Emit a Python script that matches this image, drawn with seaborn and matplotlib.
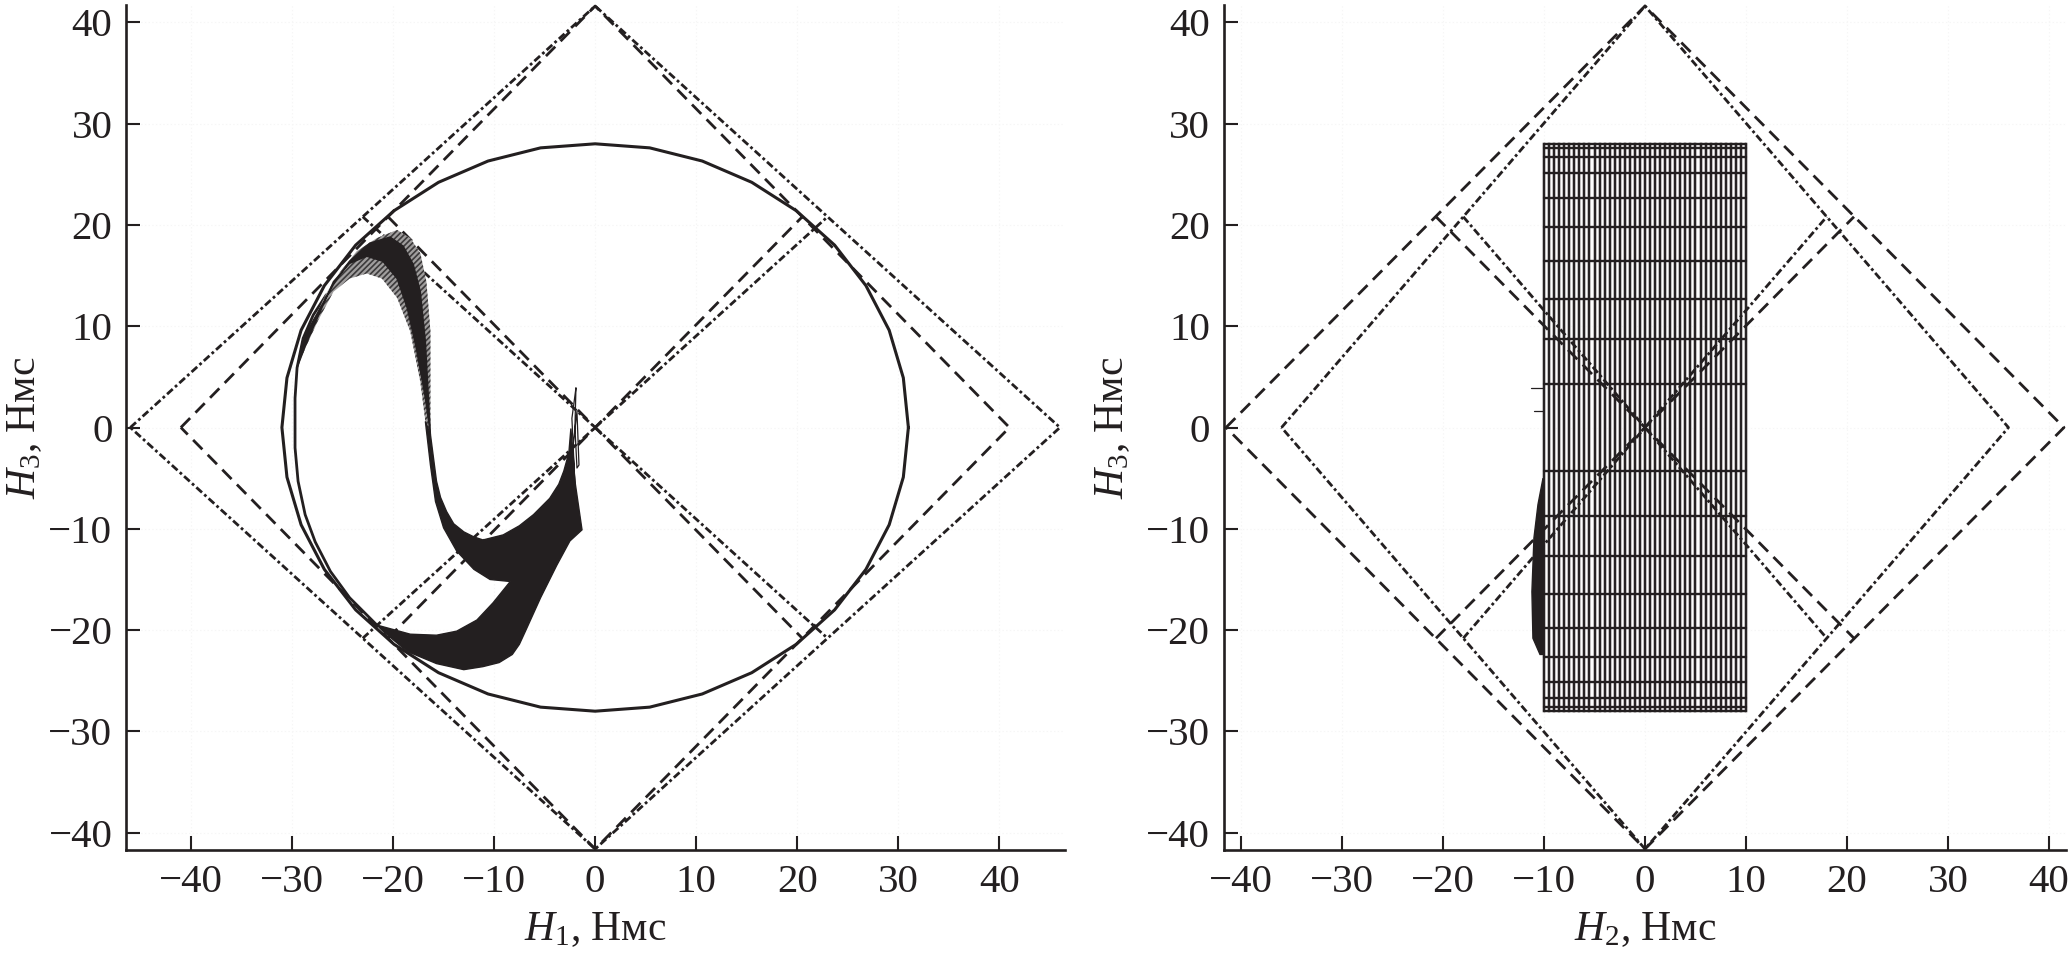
import matplotlib
matplotlib.use("Agg")
import matplotlib.pyplot as plt
import seaborn as sns
import pandas as pd

sns.set_theme(style="ticks")
plt.rcParams["font.family"] = ["Liberation Serif", "DejaVu Serif"]
plt.rcParams["mathtext.fontset"] = "custom"
plt.rcParams["mathtext.rm"] = "Liberation Serif"
plt.rcParams["mathtext.it"] = "Liberation Serif:italic"
plt.rcParams["axes.unicode_minus"] = True
plt.rcParams["lines.scale_dashes"] = False
plt.rcParams["hatch.linewidth"] = 1.2

INK = "#231f20"
DASH = (0, (9.5, 5.5))
DASHDOT = (0, (5.5, 2.2, 2, 2.2))

xticks1 = [-40, -30, -20, -10, 0, 10, 20, 30, 40]
yticks = [-40, -30, -20, -10, 0, 10, 20, 30, 40]

# polytope outlines, left panel (H1-H3)
left_dashdot_x = [-46, 0, 46, 0, -46]
left_dashdot_y = [0, 41.6, 0, -41.6, 0]
left_dashdot_c1x = [-23, 23]
left_dashdot_c1y = [20.8, -20.8]
left_dashdot_c2x = [-23, 23]
left_dashdot_c2y = [-20.8, 20.8]
left_dash_x = [-41, 0, 41, 0, -41]
left_dash_y = [0, 41.6, 0, -41.6, 0]
left_dash_c1x = [-20.5, 20.5]
left_dash_c1y = [20.8, -20.8]
left_dash_c2x = [-20.5, 20.5]
left_dash_c2y = [-20.8, 20.8]

# polytope outlines, right panel (H2-H3)
right_dashdot_x = [-36, 0, 36, 0, -36]
right_dashdot_y = [0, 41.6, 0, -41.6, 0]
right_dashdot_c1x = [-18, 18]
right_dashdot_c1y = [20.8, -20.8]
right_dashdot_c2x = [-18, 18]
right_dashdot_c2y = [-20.8, 20.8]
right_dash_x = [-41.5, 0, 41.5, 0, -41.5]
right_dash_y = [0, 41.6, 0, -41.6, 0]
right_dash_c1x = [-20.7, 20.7]
right_dash_c1y = [20.8, -20.8]
right_dash_c2x = [-20.7, 20.7]
right_dash_c2y = [-20.8, 20.8]

# momentum envelope
ellipse_x = [31, 30.5, 29.1, 26.8, 23.7, 19.9, 15.5, 10.6, 5.4, 0,
             -5.4, -10.6, -15.5, -19.9, -23.7, -26.8, -29.1, -30.5, -31,
             -30.5, -29.1, -26.8, -23.7, -19.9, -15.5, -10.6, -5.4, 0,
             5.4, 10.6, 15.5, 19.9, 23.7, 26.8, 29.1, 30.5, 31]
ellipse_y = [0, 4.9, 9.6, 14, 18, 21.4, 24.2, 26.3, 27.6, 28,
             27.6, 26.3, 24.2, 21.4, 18, 14, 9.6, 4.9, 0,
             -4.9, -9.6, -14, -18, -21.4, -24.2, -26.3, -27.6, -28,
             -27.6, -26.3, -24.2, -21.4, -18, -14, -9.6, -4.9, 0]
arc_x = [-26.6, -27.9, -28.9, -29.5, -29.7, -29.7, -29.4, -28.7, -27.7, -26.2, -24.3, -21.6]
arc_y = [13.1, 11.1, 8.8, 5.9, 2.9, -2, -5.3, -8.6, -11.3, -14.2, -16.8, -19.5]

# trajectory ribbon, left panel
hatch_x = [-29.5, -28.9, -27.6, -26.7, -25.2, -23.6, -21.6, -19.6, -18.3, -17.3, -16.7, -16.3, -16.3, -16.3,
           -16.8, -17.3, -18.3, -19.6, -21.1, -22.6, -24.3, -25.9, -27.4, -28.7]
hatch_y = [5.9, 8.8, 11.1, 13.1, 15.4, 17.4, 18.7, 19.5, 18.7, 17.2, 14.4, 9.5, 4.5, -0.7,
           0.6, 4.5, 9.5, 12.8, 14.7, 15.2, 14.7, 13.4, 10.6, 7.8]
core_x = [-29.5, -28.9, -27.6, -25.9, -24.3, -22.3, -20.3, -19.0, -18.0, -17.3, -16.8, -16.5, -16.3,
          -16.8, -17.7, -18.6, -19.6, -21.0, -22.6, -24.3, -25.9, -27.4, -28.7]
core_y = [5.9, 8.8, 11.1, 14.1, 16.4, 18.2, 18.8, 17.9, 16.1, 13.4, 8.5, 2.9, -0.7,
          2.9, 7.8, 11.8, 14.7, 16.4, 16.9, 16.2, 14.4, 11.0, 8.0]
ribbon_x = [-16.8, -16.3, -15.7, -15.3, -14.7, -14.0, -13.0, -12.0, -11.1, -9.1, -7.5, -6.1, -4.5, -3.6, -3.1, -2.6, -2.4,
            -2.0, -1.3, -2.5, -3.8, -5.4, -6.9, -7.5, -8.2, -9.5, -11.1, -13.0, -15.7, -18.6, -21.0, -21.6,
            -18.3, -15.7, -13.7, -11.7, -10.1, -8.4, -10.4, -12.0, -13.7, -15.0, -15.8, -16.3]
ribbon_y = [0.6, -0.7, -5.3, -6.9, -8.3, -9.5, -10.3, -10.8, -11.1, -10.6, -9.7, -8.6, -7.0, -5.6, -4.3, -2.5, -0.1,
            -5.3, -10.1, -11.2, -13.6, -16.8, -20.1, -21.4, -22.4, -23.2, -23.6, -23.9, -23.3, -22.1, -20.1, -19.5,
            -20.4, -20.5, -20.1, -19.0, -17.3, -15.2, -15.0, -14.0, -12.2, -9.9, -7.3, -3.7]
spike_x = [-1.9, -2.3, -2.0, -2.2, -1.8, -1.6, -1.8, -2.0, -1.9]
spike_y = [3.9, 0.9, -5.7, -2.0, 1.6, -3.7, -4.0, 0.0, 3.9]

# wire grid, right panel
grid_h2 = [-10, -9.5, -9, -8.5, -8, -7.5, -7, -6.5, -6, -5.5, -5, -4.5, -4, -3.5, -3, -2.5, -2, -1.5, -1, -0.5, 0,
           0.5, 1, 1.5, 2, 2.5, 3, 3.5, 4, 4.5, 5, 5.5, 6, 6.5, 7, 7.5, 8, 8.5, 9, 9.5, 10]
grid_h3 = [28, 27.6, 26.7, 25.1, 22.7, 19.8, 16.4, 12.7, 8.7, 4.3,
           -4.3, -8.7, -12.7, -16.4, -19.8, -22.7, -25.1, -26.7, -27.6, -28]
sliver_x = [-10.1, -10.6, -11.0, -11.2, -11.1, -10.4, -10.1]
sliver_y = [-5, -7.6, -10.9, -16.2, -20.8, -22.4, -22.4]
stub_h2 = [-11.3, -10.1, -11.0, -10.1]
stub_h3 = [3.9, 3.9, 1.6, 1.6]


def draw(ax, x, y, ls="-", lw=2.0, color=INK):
    sns.lineplot(x=x, y=y, ax=ax, sort=False, estimator=None, color=color,
                 linestyle=ls, linewidth=lw, clip_on=False, zorder=6)


def style(ax, xlim, xlabel, ypad):
    ax.set_xlim(*xlim)
    ax.set_ylim(-41.7, 41.7)
    ax.set_xticks(xticks1)
    ax.set_yticks(yticks)
    ax.grid(True, color="#f6f6f6", linestyle=":", linewidth=0.8)
    ax.set_axisbelow(True)
    ax.tick_params(direction="in", length=10, width=1.5, labelsize=29.5, colors=INK)
    ax.tick_params(axis="x", pad=10)
    ax.tick_params(axis="y", pad=10)
    ax.set_xlabel(xlabel, fontsize=30, color=INK, labelpad=7)
    ax.set_ylabel("$H_3$, Нмс", fontsize=30, color=INK, labelpad=ypad)
    sns.despine(ax=ax)
    for side in ["left", "bottom"]:
        ax.spines[side].set_linewidth(1.9)
        ax.spines[side].set_color(INK)


fig = plt.figure(figsize=(20.7, 9.65), dpi=100)
ax1 = fig.add_axes([126.3 / 2070, 1 - 850 / 965, (1065 - 126.3) / 2070, (850 - 5) / 965])
ax2 = fig.add_axes([1224 / 2070, 1 - 850 / 965, (2066 - 1224) / 2070, (850 - 5) / 965])

# left panel
draw(ax1, left_dashdot_x, left_dashdot_y, DASHDOT)
draw(ax1, left_dashdot_c1x, left_dashdot_c1y, DASHDOT)
draw(ax1, left_dashdot_c2x, left_dashdot_c2y, DASHDOT)
draw(ax1, left_dash_x, left_dash_y, DASH)
draw(ax1, left_dash_c1x, left_dash_c1y, DASH)
draw(ax1, left_dash_c2x, left_dash_c2y, DASH)
draw(ax1, ellipse_x, ellipse_y, lw=2.2)
draw(ax1, arc_x, arc_y, lw=2.0)
ax1.fill(hatch_x, hatch_y, facecolor="#a09e9e", edgecolor="#3c3a3b", hatch="//////", linewidth=0, zorder=7)
ax1.fill(core_x, core_y, color=INK, zorder=8)
ax1.fill(ribbon_x, ribbon_y, color=INK, zorder=8)
draw(ax1, spike_x, spike_y, lw=0.9)
style(ax1, (-46.4, 46.5), "$H_1$, Нмс", 3)

# right panel
draw(ax2, right_dashdot_x, right_dashdot_y, DASHDOT)
draw(ax2, right_dashdot_c1x, right_dashdot_c1y, DASHDOT)
draw(ax2, right_dashdot_c2x, right_dashdot_c2y, DASHDOT)
draw(ax2, right_dash_x, right_dash_y, DASH)
draw(ax2, right_dash_c1x, right_dash_c1y, DASH)
draw(ax2, right_dash_c2x, right_dash_c2y, DASH)

vert = pd.DataFrame([(h2, y) for h2 in grid_h2 for y in (grid_h3[0], grid_h3[-1])], columns=["h2", "h3"])
horiz = pd.DataFrame([(x, h3) for h3 in grid_h3 for x in (grid_h2[0], grid_h2[-1])], columns=["h2", "h3"])
sns.lineplot(data=vert, x="h2", y="h3", units="h2", estimator=None, sort=False, ax=ax2,
             color="#c2c0c0", linewidth=2.9, zorder=3)
sns.lineplot(data=vert, x="h2", y="h3", units="h2", estimator=None, sort=False, ax=ax2,
             color=INK, linewidth=1.4, zorder=4)
sns.lineplot(data=horiz, x="h2", y="h3", units="h3", estimator=None, sort=False, ax=ax2,
             color=INK, linewidth=1.7, zorder=5)
ax2.fill(sliver_x, sliver_y, color=INK, zorder=7)
draw(ax2, stub_h2[:2], stub_h3[:2], lw=0.9)
draw(ax2, stub_h2[2:], stub_h3[2:], lw=0.9)
style(ax2, (-41.7, 41.7), "$H_2$, Нмс", 10)

fig.savefig("out.png", dpi=100)
